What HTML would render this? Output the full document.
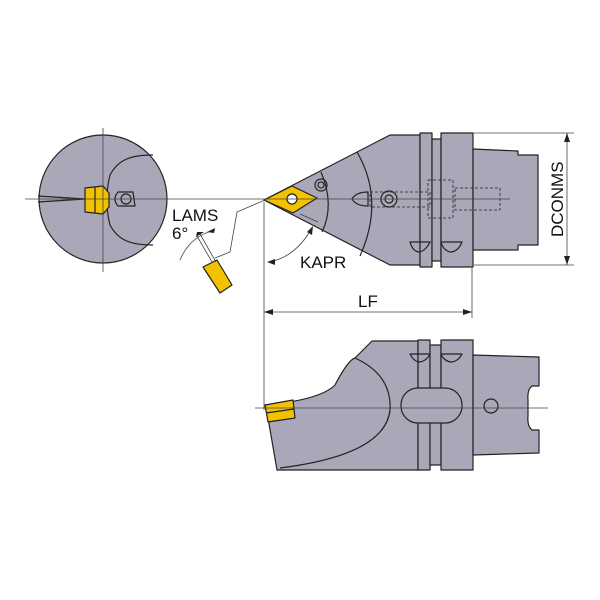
<!DOCTYPE html>
<html><head><style>body{margin:0;background:#fff}svg{display:block}text{font-family:"Liberation Sans",sans-serif;fill:#111}</style></head><body>
<svg width="600" height="600" viewBox="0 0 600 600" xmlns="http://www.w3.org/2000/svg">
<g stroke="#222" stroke-width="1.2" fill="#aaa8b8" stroke-linejoin="round">
<!-- circle view -->
<circle cx="103" cy="199" r="64"/>
<path d="M153,155 C130,155 118,160 110,175 C106,190 106,210 110,225 C118,240 130,245 153,245" fill="none"/>
<path d="M38,196 L85,199 L38,202" fill="none"/>
<path d="M118,192 L133,192 L135,206 L118,206 Q112,199 118,192Z" fill="none"/>
<circle cx="126" cy="199" r="5" fill="none"/>
<path d="M85,188 L103,186 L109,193 L109,207 L103,214 L85,212Z" fill="#f2c200"/>
<line x1="95" y1="187" x2="95" y2="213"/>
<!-- top view -->
<path d="M264,200 L390,135 L420,135 L420,265 L390,265Z"/>
<rect x="420" y="133" width="12" height="134"/>
<rect x="432" y="139" width="9" height="122"/>
<rect x="441" y="133" width="32" height="134"/>
<path d="M473,149 L518,151 L518,155 L538,155 L538,245 L518,245 L518,250 L473,250Z"/>
<path d="M357,152 Q385,200 360,256" fill="none"/>
<path d="M321,172 Q335,205 322,232" fill="none"/>
<circle cx="321" cy="185" r="6" fill="none"/><circle cx="321" cy="185" r="3" fill="none"/>
<path d="M368,192 Q356,192 352,199 Q356,206 368,206Z" fill="#aaa8b8"/>
<circle cx="389" cy="199" r="8" fill="none"/><circle cx="389" cy="199" r="4" fill="none"/>
<path d="M410,242 L430,242 Q425,252 418,252 Q412,250 410,242Z" fill="none"/>
<path d="M441,242 L462,242 Q458,252 450,252 Q443,250 441,242Z" fill="none"/>
<g stroke-dasharray="3,2" stroke-width="0.8" fill="none"><rect x="370" y="192" width="60" height="15"/><rect x="428" y="180" width="25" height="38"/><rect x="455" y="188" width="45" height="22"/></g>
<path d="M264,200 L292,186 L317,198 L293,213Z" fill="#f2c200"/>
<circle cx="292" cy="199" r="5" fill="#fff"/>
<!-- side view -->
<path d="M372,341 L418,341 L418,470 L277,470 L268,418 L265,405 Q320,400 335,385 Q348,360 355,358Z"/>
<rect x="418" y="340" width="12" height="130"/>
<rect x="430" y="345" width="11" height="120"/>
<rect x="441" y="340" width="32" height="130"/>
<path d="M473,355 L539,357 L539,386 L532,386 Q527,390 528,400 L528,416 Q527,426 532,430 L539,430 L539,453 L473,455Z"/>
<path d="M355,358 Q392,375 390,410 Q385,455 280,468" fill="none"/>
<rect x="401" y="388" width="61" height="35" rx="17" ry="17"/>
<circle cx="491" cy="406" r="7" fill="none"/>
<path d="M410,354 L430,354 Q426,362 418,362 Q413,360 410,354Z" fill="none"/>
<path d="M441,354 L462,354 Q458,362 450,362 Q443,360 441,354Z" fill="none"/>
<path d="M265,405 L293,400 L295,418 L268,422Z" fill="#f2c200"/>
<line x1="266" y1="413" x2="294" y2="409"/>
<!-- small insert -->
<path d="M203,267 L217,260 L232,285 L220,293Z" fill="#f2c200"/>
</g>
<g stroke="#444" stroke-width="0.8" fill="none">
<line x1="25" y1="199" x2="510" y2="199"/>
<line x1="103" y1="128" x2="103" y2="272"/>
<line x1="255" y1="408" x2="548" y2="408"/>
<polyline points="265,200 237,212 230,252 215,258"/>
<line x1="200" y1="234" x2="216" y2="262"/><line x1="197" y1="236" x2="212" y2="262"/>
<path d="M180,260 Q190,236 215,230"/>
<line x1="264" y1="202" x2="264" y2="410"/>
<line x1="472" y1="268" x2="472" y2="318"/>
<line x1="264" y1="312" x2="472" y2="312"/>
<line x1="474" y1="133" x2="574" y2="133"/><line x1="474" y1="265" x2="574" y2="265"/>
<line x1="567" y1="133" x2="567" y2="265"/>
<line x1="300" y1="214" x2="318" y2="222"/>
<path d="M268,262 Q295,258 312,228"/>
</g>
<g fill="#222">
<path d="M264,312 l9,-3 v6z"/><path d="M472,312 l-9,-3 v6z"/>
<path d="M567,133 l-3,9 h6z"/><path d="M567,265 l-3,-9 h6z"/>
<path d="M267,262 l8,-3 v6z"/><path d="M313,226 l-1,9 -5,-3z"/>
<path d="M204,232 l-8,5 1,-5z"/><path d="M207,232 l8,-4 -1,5z"/>
</g>
<text x="172" y="221" font-size="17">LAMS</text>
<text x="172" y="239" font-size="17">6°</text>
<text x="300" y="268" font-size="17">KAPR</text>
<text x="358" y="307" font-size="17">LF</text>
<text transform="translate(563,237) rotate(-90)" font-size="17">DCONMS</text>
</svg>
</body></html>
